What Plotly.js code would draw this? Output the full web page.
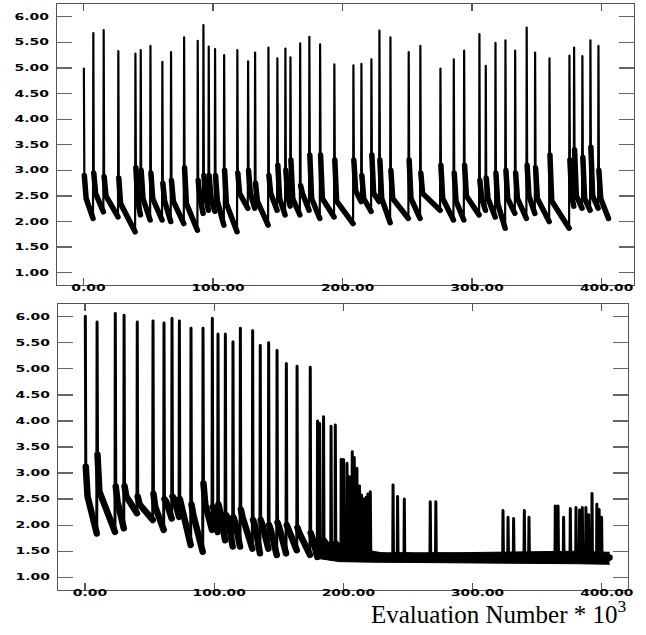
<!DOCTYPE html>
<html><head><meta charset="utf-8">
<script src="https://cdn.plot.ly/plotly-3.0.1.min.js"></script>
<style>html,body{margin:0;padding:0;background:#fff}#chart{width:646px;height:635px}
path.js-line{stroke-linecap:round;stroke-linejoin:round}</style>
</head><body><div id="chart"></div>
<script>
// ---------- top panel ----------
const topSpikeX = [0.0,7.3,15.3,26.6,39.8,43.9,51.4,60.6,67.3,77.4,
  87.9,92.3,96.4,101.3,108.3,118.5,126.8,132.2,142.5,149.4,
  155.6,159.5,167.0,174.1,182.4,193.4,208.1,214.3,222.0,228.2,
  236.7,250.8,259.8,275.3,285.6,293.6,305.4,310.3,317.8,325.5,
  333.0,341.9,348.4,359.5,374.9,378.5,384.9,391.1,397.3];
const topPeak = [4.99,5.68,5.74,5.33,5.28,5.35,5.43,5.12,5.31,5.60,
  5.53,5.84,5.42,5.37,5.25,5.35,5.13,5.30,5.40,5.19,
  5.38,5.21,5.48,5.61,5.46,5.07,5.05,5.08,5.17,5.73,
  5.60,5.31,5.43,4.99,5.17,5.34,5.66,5.04,5.49,5.54,
  5.34,5.79,5.30,5.19,5.24,5.40,5.23,5.54,5.43];
const topDrop = [2.90,2.95,2.88,2.85,3.05,3.00,2.95,2.75,2.80,3.05,
  2.80,2.90,2.90,2.90,3.00,2.95,3.00,2.75,2.90,3.10,
  3.00,3.20,2.70,3.30,3.30,3.20,3.20,2.90,3.30,3.20,
  3.00,3.20,2.95,3.10,2.95,3.10,2.80,2.85,2.95,3.00,
  2.95,3.10,3.05,3.30,3.20,3.40,3.25,3.45,3.00];
const topKnee = [2.45,2.55,2.50,2.35,2.40,2.45,2.45,2.40,2.40,2.35,
  2.45,2.50,2.45,2.40,2.35,2.55,2.55,2.40,2.55,2.45,
  2.50,2.45,2.55,2.45,2.45,2.40,2.60,2.45,2.55,2.45,
  2.45,2.45,2.55,2.45,2.40,2.50,2.45,2.45,2.35,2.45,
  2.45,2.50,2.45,2.40,2.50,2.50,2.45,2.50,2.45];
const topValley = [2.06,2.19,2.09,1.80,2.13,2.03,2.03,2.00,1.96,1.83,
  2.16,2.22,2.20,1.93,1.80,2.26,2.26,1.93,2.22,2.13,
  2.30,2.13,2.22,2.06,2.09,1.96,2.39,2.20,2.39,1.98,
  2.06,2.06,2.22,2.03,2.03,2.13,2.22,2.09,1.87,2.16,
  2.06,2.16,2.00,1.87,2.30,2.26,2.22,2.26,2.06];
const topEndX = 405.3;

// ---------- bottom panel ----------
const botSpikeX = [0.0,9.1,23.2,30.0,40.2,52.4,60.9,67.1,72.8,81.8,
  91.1,98.3,102.7,108.4,114.3,120.0,129.5,135.4,141.9,148.4,
  155.6,163.9,174.1,179.8,181.4,184.4,190.2,193.5,198.1,199.9,
  202.6,204.3,206.7,208.2,210.3,212.3,213.9,215.4,217.3,218.8,
  220.6,238.2,241.7,246.9,267.0,271.3,323.3,327.2,331.5,339.8,
  343.4,363.8,365.9,370.2,375.4,379.8,382.6,384.7,387.5,389.6,
  392.2,396.0,397.8,399.6];
const botPeak = [6.01,5.90,6.06,6.03,5.90,5.92,5.88,5.97,5.92,5.78,
  5.78,5.97,5.67,5.67,5.52,5.78,5.73,5.45,5.50,5.35,
  5.10,5.05,5.03,4.00,3.95,4.08,3.90,3.92,3.26,3.26,
  3.19,2.93,3.41,3.30,3.09,2.75,2.58,2.50,2.53,2.60,
  2.64,2.77,2.55,2.50,2.45,2.45,2.28,2.15,2.13,2.28,
  2.15,2.37,2.37,2.15,2.32,2.34,2.29,2.34,2.34,2.20,
  2.61,2.40,2.30,2.15];
const botDrop = [3.12,3.35,2.74,2.75,2.55,2.60,2.50,2.55,2.50,2.40,
  2.80,2.35,2.40,2.20,2.15,2.30,2.10,2.10,2.00,2.05,
  2.00,1.95,1.85,1.70,1.70,1.70,1.65,1.65,1.60,1.60,
  1.60,1.58,1.58,1.55,1.52,1.50,1.45,1.45,1.45,1.45,
  1.45,1.42,1.42,1.42,1.42,1.42,1.40,1.40,1.40,1.40,
  1.40,1.40,1.40,1.40,1.40,1.40,1.40,1.40,1.40,1.40,
  1.40,1.40,1.40,1.40];
const botKnee = [2.55,2.65,2.45,2.55,2.40,2.35,2.45,2.50,2.35,2.20,
  2.40,2.30,2.25,2.15,2.05,2.15,2.00,2.00,1.90,1.95,
  1.90,1.85,1.75,1.65,1.65,1.65,1.60,1.60,1.55,1.55,
  1.55,1.55,1.55,1.52,1.50,1.48,1.45,1.45,1.45,1.45,
  1.45,1.42,1.42,1.42,1.42,1.42,1.40,1.40,1.40,1.40,
  1.40,1.40,1.40,1.40,1.40,1.40,1.40,1.40,1.40,1.40,
  1.40,1.40,1.40,1.40];
const botValley = [1.84,1.87,1.94,2.23,2.10,1.91,2.13,2.16,1.62,1.49,
  1.91,1.87,1.71,1.59,1.59,1.55,1.46,1.55,1.43,1.46,
  1.52,1.43,1.39,1.45,1.45,1.45,1.42,1.42,1.45,1.45,
  1.42,1.42,1.42,1.40,1.40,1.40,1.40,1.40,1.40,1.40,
  1.38,1.38,1.38,1.38,1.38,1.38,1.38,1.38,1.38,1.38,
  1.38,1.38,1.38,1.38,1.38,1.38,1.38,1.38,1.38,1.38,
  1.38,1.38,1.38,1.38];
const botEndX = 406.0;
// noisy base band of the bottom run (lower / upper edge)
const bandX    = [178, 197, 221, 283, 330, 380, 406];
const bandLow  = [1.37, 1.30, 1.29, 1.28, 1.28, 1.26, 1.25];
const bandHigh = [1.62, 1.56, 1.47, 1.47, 1.48, 1.50, 1.48];

const xTicks = [0, 100, 200, 300, 400];

function build(spx, peak, drop, knee, valley, endX) {
  const tx = [], ty = [], kx = [], ky = [];
  for (let i = 0; i < spx.length; i++) {
    const x0 = spx[i];
    const xn = i + 1 < spx.length ? spx[i + 1] : endX;
    const gap = xn - x0;
    const xp = x0 + Math.min(0.25, gap * 0.1);
    const xd = x0 + Math.min(0.6, gap * 0.25);
    const xk = x0 + Math.min(2.0, gap * 0.55);
    tx.push(xp, xd, xk, xn);
    ty.push(peak[i], drop[i], knee[i], valley[i]);
    kx.push(xd, xk, xn, null);
    ky.push(drop[i], knee[i], valley[i], null);
  }
  return {tx, ty, kx, ky};
}
const T = build(topSpikeX, topPeak, topDrop, topKnee, topValley, topEndX);
const B = build(botSpikeX, botPeak, botDrop, botKnee, botValley, botEndX);

const blk = '#000';
const traces = [
  {x: T.kx, y: T.ky, xaxis: 'x', yaxis: 'y', mode: 'lines', line: {color: blk, width: 5.5}},
  {x: T.tx, y: T.ty, xaxis: 'x', yaxis: 'y', mode: 'lines', line: {color: blk, width: 2.2}},
  {x: bandX, y: bandLow, xaxis: 'x2', yaxis: 'y2', mode: 'lines', line: {color: blk, width: 1}},
  {x: bandX, y: bandHigh, xaxis: 'x2', yaxis: 'y2', mode: 'lines', fill: 'tonexty', fillcolor: blk, line: {color: blk, width: 1}},
  {x: B.kx, y: B.ky, xaxis: 'x2', yaxis: 'y2', mode: 'lines', line: {color: blk, width: 6.5}},
  {x: B.tx, y: B.ty, xaxis: 'x2', yaxis: 'y2', mode: 'lines', line: {color: blk, width: 3}}
];

const W = 646, H = 635;
const tickFont = {family: 'DejaVu Sans', size: 8.5, weight: 'bold', color: '#000'};
function xax(domain, range, anchor) {
  return {domain, range, anchor, tickvals: xTicks, tickformat: '.2f',
    ticks: 'inside', ticklen: 7, tickwidth: 1.3, tickcolor: '#555',
    showline: true, linecolor: '#555', linewidth: 1.3, mirror: 'ticks',
    showgrid: false, zeroline: false, tickfont: tickFont,
    ticklabelstandoff: -6, ticklabelshift: 5};
}
function yax(domain, range, anchor) {
  return {domain, range, anchor, tick0: 1, dtick: 0.5, tickformat: '.2f',
    ticks: 'inside', ticklen: 15, tickwidth: 1.3, tickcolor: '#666',
    showline: true, linecolor: '#555', linewidth: 1.3, mirror: 'ticks',
    showgrid: false, zeroline: false, tickfont: tickFont, ticklabelstandoff: 5};
}
const layout = {
  width: W, height: H, margin: {l: 0, r: 0, t: 0, b: 0},
  paper_bgcolor: '#fff', plot_bgcolor: '#fff', showlegend: false,
  xaxis:  xax([57 / W, 634 / W], [-20.5, 425], 'y'),
  yaxis:  yax([(H - 285) / H, (H - 4) / H], [0.76, 6.25], 'x'),
  xaxis2: xax([58 / W, 628 / W], [-20.9, 420.3], 'y2'),
  yaxis2: yax([(H - 590) / H, (H - 304) / H], [0.756, 6.244], 'x2'),
  annotations: [{
    text: 'Evaluation Number * 10<sup>3</sup>', xref: 'paper', yref: 'paper',
    x: 628 / W, y: 5 / H, xanchor: 'right', yanchor: 'bottom', showarrow: false,
    font: {family: 'Liberation Serif', size: 25, color: '#000'}
  }]
};
// widen the tick labels (wide, low bold face of the original)
function stretch(el) {
  const s = el.textContent;
  const digits = s.replace(/[^0-9]/g, '').length;
  const dots = s.length - digits;
  el.setAttribute('textLength', (digits * 9.4 + dots * 6.3).toFixed(1));
  el.setAttribute('lengthAdjust', 'spacingAndGlyphs');
}
Plotly.newPlot('chart', traces, layout, {staticPlot: true, displayModeBar: false}).then(function () {
  document.querySelectorAll('g.xtick text, g.x2tick text, g.ytick text, g.y2tick text').forEach(stretch);
});
</script>
</body></html>
